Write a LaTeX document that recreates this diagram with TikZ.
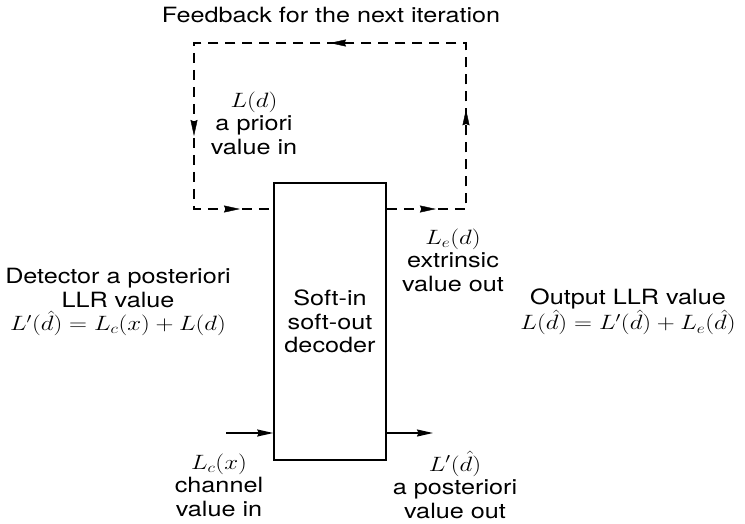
\documentclass[tikz,border=0pt]{standalone}
\usepackage{fontspec}
\setmainfont{TeX Gyre Heros}[FakeStretch=1.2]
\usepackage{graphicx}
\usetikzlibrary{arrows.meta,decorations.markings}

% math set with the same horizontal stretch as the text
\newcommand{\mth}[1]{\scalebox{1.2}[1]{$#1$}}

\tikzset{
  lbl/.style={font=\fontsize{21}{23.5}\selectfont, align=center, inner sep=0pt},
  decbox/.style={draw, line width=1.5pt, minimum width=112pt, minimum height=277pt, inner sep=0pt, lbl},
  fb/.style={line width=1.4pt, dash pattern=on 10pt off 7pt},
  tip/.style={-{Stealth[length=16pt,width=7pt,inset=1.5pt]}},
  solidarr/.style={line width=1.4pt, tip},
  midtip/.style={decorate, decoration={markings,
      mark=at position #1 with {\arrow{Stealth[length=16pt,width=7pt,inset=1.5pt]}}}}
}

\begin{document}
\begin{tikzpicture}[x=1pt,y=-1pt]
\useasboundingbox (0,0) rectangle (745,523);

% decoder block
\node[decbox] (dec) at (330,321.5) {Soft-in\\soft-out\\decoder};

% feedback loop corners
\coordinate (tl) at (194,43);
\coordinate (tr) at (466,43);
\coordinate (bl) at (194,209);
\coordinate (br) at (466,209);

\draw[fb] (dec.east |- br) -- (br) -- (tr) -- (tl) -- (bl) -- (dec.west |- bl);

% direction marks on the loop
\path[midtip=0.62] (dec.east |- br) -- (br);
\path[midtip=0.6] (br) -- (tr);
\path[midtip=0.5] (tr) -- (tl);
\path[midtip=0.56] (tl) -- (bl);
\path[midtip=0.58] (bl) -- (dec.west |- bl);

% channel input and a posteriori output
\coordinate (cin) at (226,433);
\coordinate (cout) at (433,433);
\draw[solidarr] (cin) -- (cin -| dec.west);
\draw[solidarr] (dec.east |- cout) -- (cout);

% labels
\node[lbl] (title) at (331,15) {Feedback for the next iteration};
\node[lbl] (apri) at (254,123) {\mth{L(d)}\\a priori\\value in};
\node[lbl] (ext) at (453,260) {\mth{L_e(d)}\\extrinsic\\value out};
\node[lbl] (det) at (118,302) {Detector a posteriori\\LLR value\\\mth{L'(\hat d) = L_c(x) + L(d)}};
\node[lbl] (llr) at (628,312) {Output LLR value\\\mth{L(\hat d) = L'(\hat d) + L_e(\hat d)}};
\node[lbl] (chan) at (219,485) {\mth{L_c(x)}\\channel\\value in};
\node[lbl] (apost) at (455,485) {\mth{L'(\hat d)}\\a posteriori\\value out};
\end{tikzpicture}
\end{document}
